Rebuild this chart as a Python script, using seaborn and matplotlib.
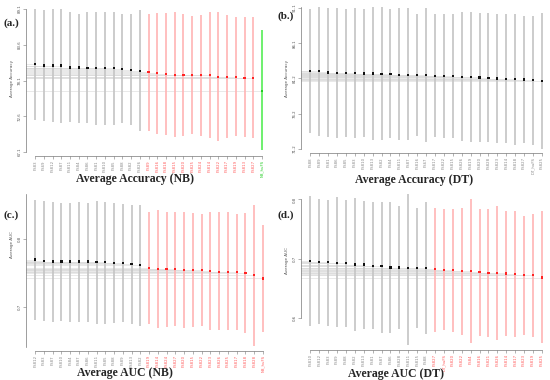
import numpy as np
import pandas as pd
import matplotlib
matplotlib.use("Agg")
import matplotlib.pyplot as plt
import seaborn as sns

sns.set_style("ticks")
plt.rcParams['font.family'] = ['DejaVu Sans']

#----------------------------------------------------------------------
# (a.) Average Accuracy (NB)
names_a = ["FS83", "FS69", "FS812", "FS87", "FS811", "FS84", "FS86", "FS81", "FS810",
           "FS85", "FS88", "FS82", "FS826",
           "FS89", "FS816", "FS818", "FS815", "FS820", "FS825", "FS824", "FS814",
           "FS822", "FS817", "FS819", "FS813", "FS827",
           "NB_huFS"]
kind_a = ["base"] * 13 + ["sel"] * 13 + ["hu"]
mean_a = [80.6, 80.4, 80.4, 80.4, 80.1, 80.1, 80.0, 80.0, 80.0, 80.0, 79.9, 79.7, 79.6,
          79.4, 79.2, 79.1, 79.0, 79.0, 78.9, 78.9, 78.9, 78.7, 78.7, 78.6, 78.5, 78.5,
          76.5]
high_a = [89.1, 89.0, 89.1, 89.1, 88.6, 88.4, 88.6, 88.6, 88.7, 88.6, 88.4, 88.4, 89.0,
          88.4, 88.5, 88.5, 88.6, 88.4, 88.1, 88.2, 88.6, 88.6, 88.2, 87.9, 87.9, 87.9,
          85.8]
low_a = [72.0, 71.8, 71.7, 71.6, 71.7, 71.6, 71.5, 71.3, 71.2, 71.3, 71.6, 71.2, 70.3,
         70.4, 69.8, 69.7, 69.4, 69.5, 69.8, 69.6, 69.3, 68.8, 69.2, 69.5, 69.4, 69.3,
         67.4]
yticks_a = ["67.1", "72.6", "78.1", "83.6", "89.1"]

# (b.) Average Accuracy (DT)
names_b = ["FS88", "FS89", "FS81", "FS86", "FS85", "FS83", "FS810", "FS813", "FS82",
           "FS84", "FS811", "FS87", "FS816", "FS67", "FS817", "FS822", "FS815", "FS826",
           "FS819", "FS820", "FS828", "FS823", "FS814", "FS818", "FS827", "DT_huFS",
           "FS825"]
kind_b = ["base"] * 27
mean_b = [82.2, 82.2, 82.0, 81.95, 81.95, 81.9, 81.85, 81.85, 81.8, 81.8, 81.7, 81.7,
          81.6, 81.6, 81.5, 81.45, 81.45, 81.4, 81.35, 81.3, 81.2, 81.15, 81.1, 81.05,
          81.0, 80.9, 80.8]
high_b = [90.9, 91.2, 91.1, 91.1, 91.0, 91.1, 90.9, 91.3, 91.2, 90.9, 91.1, 91.1,
          90.3, 91.1, 90.3, 90.3, 90.3, 90.6, 90.6, 90.45, 90.35, 90.26, 90.26, 90.26,
          89.98, 89.98, 90.45]
low_b = [73.4, 73.0, 72.85, 72.8, 72.85, 72.7, 72.85, 72.5, 72.5, 72.7, 72.5, 72.5,
         73.0, 72.2, 72.9, 72.8, 72.7, 72.3, 72.2, 72.2, 72.2, 72.0, 72.0, 71.8, 72.0,
         71.8, 71.2]
yticks_b = ["71.2", "76.2", "81.2", "86.1", "91.1"]

# (c.) Average AUC (NB)
names_c = ["FS812", "FS83", "FS87", "FS810", "FS84", "FS87", "FS86", "FS811", "FS85",
           "FS88", "FS89", "FS813", "FS82",
           "FS819", "FS814", "FS824", "FS827", "FS820", "FS815", "FS822", "FS823",
           "FS826", "FS825", "FS817", "FS818", "FS828", "NB_huFS"]
kind_c = ["base"] * 13 + ["sel"] * 14
mean_c = [0.770, 0.768, 0.767, 0.767, 0.767, 0.767, 0.767, 0.766, 0.766, 0.765, 0.765,
          0.763, 0.762,
          0.758, 0.756, 0.756, 0.756, 0.755, 0.755, 0.755, 0.753, 0.752, 0.752, 0.752,
          0.750, 0.747, 0.742]
high_c = [0.858, 0.857, 0.855, 0.853, 0.854, 0.855, 0.853, 0.856, 0.855, 0.853, 0.852,
          0.851, 0.851,
          0.840, 0.844, 0.841, 0.840, 0.841, 0.839, 0.838, 0.841, 0.840, 0.840, 0.837,
          0.839, 0.851, 0.821]
low_c = [0.681, 0.679, 0.678, 0.679, 0.678, 0.677, 0.678, 0.675, 0.675, 0.676, 0.677,
         0.674, 0.672,
         0.675, 0.669, 0.670, 0.671, 0.669, 0.670, 0.671, 0.665, 0.665, 0.665, 0.666,
         0.661, 0.642, 0.663]
yticks_c = ["0.7", "0.8"]

# (d.) Average AUC (DT)
names_d = ["FS810", "FS812", "FS83", "FS89", "FS88", "FS82", "FS813", "FS81", "FS87",
           "FS86", "FS828", "FS811", "FS815", "FS88",
           "FS827", "DT_huFS", "FS820", "FS822", "FS84", "FS816", "FS821", "FS826",
           "FS814", "FS817", "FS823", "FS819", "FS825"]
kind_d = ["base"] * 14 + ["sel"] * 13
mean_d = [0.6955, 0.695, 0.694, 0.693, 0.692, 0.690, 0.690, 0.688, 0.687, 0.685, 0.685,
          0.684, 0.684, 0.684,
          0.682, 0.681, 0.681, 0.679, 0.679, 0.677, 0.676, 0.676, 0.675, 0.674, 0.672,
          0.672, 0.668]
high_d = [0.805, 0.800, 0.799, 0.804, 0.799, 0.802, 0.798, 0.795, 0.796, 0.795, 0.789,
          0.809, 0.785, 0.795,
          0.785, 0.784, 0.784, 0.785, 0.800, 0.784, 0.784, 0.789, 0.781, 0.780, 0.772,
          0.776, 0.780]
low_d = [0.586, 0.589, 0.587, 0.585, 0.585, 0.577, 0.581, 0.581, 0.575, 0.575, 0.581,
         0.555, 0.583, 0.573,
         0.576, 0.579, 0.576, 0.571, 0.557, 0.569, 0.568, 0.562, 0.569, 0.568, 0.571,
         0.567, 0.557]
yticks_d = ["0.6", "0.7", "0.8"]

#----------------------------------------------------------------------
line_col = {"base": "#c4c4c4", "sel": "#ffb4b4", "hu": "#55ee55"}
dot_col = {"base": "#111111", "sel": "#ff2222", "hu": "#22cc22"}
text_col = {"base": "#888888", "sel": "#ff5a5a", "hu": "#22cc22"}


def draw_panel(ax, names, kind, mean, low, high, yticks, ylim, spine_lim,
               ylabel, title, tag, title_xy, tag_xy, ylab_xy):
    df = pd.DataFrame({"x": np.arange(len(names)), "name": names, "kind": kind,
                       "mean": mean, "low": low, "high": high})
    x0 = -1.05
    # guide lines from the axis to each point
    ax.hlines(df["mean"], x0, df["x"], color="#dcdcdc", lw=0.45, zorder=1)
    for k, sub in df.groupby("kind"):
        ax.vlines(sub["x"], sub["low"], sub["high"], color=line_col[k], lw=1.2,
                  zorder=2, clip_on=False)
    sns.scatterplot(data=df, x="x", y="mean", hue="kind", palette=dot_col,
                    marker="s", s=2.5, linewidth=0, legend=False, ax=ax, zorder=3,
                    clip_on=False)
    ax.set_xlim(x0, len(names) - 1 + 0.35)
    ax.set_ylim(*ylim)
    ax.set_xlabel("")
    ax.set_ylabel("")

    # spines first: moving a spine resets the ticks
    sns.despine(ax=ax)
    ax.spines["bottom"].set_position(("outward", 3))
    ax.spines["left"].set_bounds(*spine_lim)
    ax.spines["bottom"].set_bounds(0, len(names) - 1)
    for s in ["left", "bottom"]:
        ax.spines[s].set_linewidth(0.5)
        ax.spines[s].set_color("#777777")

    ax.tick_params(length=2, width=0.4, pad=1, color="#777777", labelsize=2.8)
    ax.tick_params(axis="x", labelrotation=90)
    ax.set_xticks(list(df["x"]))
    ax.set_xticklabels(names)
    for lab, k in zip(ax.get_xticklabels(), kind):
        lab.set_color(text_col[k])
    yt = [float(t) for t in yticks]
    ax.set_yticks(yt)
    ax.set_yticklabels(yticks, rotation=90, va="center", color="#555555")

    fig.text(ylab_xy[0] / 550, 1 - ylab_xy[1] / 380, ylabel, rotation=90, fontsize=3,
             ha="center", va="center", color="#555555")
    fig.text(title_xy[0] / 550, 1 - title_xy[1] / 380, title, fontsize=8.5,
             fontweight="bold", family="Liberation Serif", ha="center", va="center")
    fig.text(tag_xy[0] / 550, 1 - tag_xy[1] / 380, tag, fontsize=8,
             fontweight="bold", family="Liberation Serif", ha="left", va="center")


fig = plt.figure(figsize=(5.5, 3.8), dpi=100)
W, H = 550, 380


def add_axes(l, t, r, b):
    return fig.add_axes([l / W, 1 - b / H, (r - l) / W, (b - t) / H])


ax_a = add_axes(26, 9, 265, 152)
ax_b = add_axes(301, 7.3, 545, 149)
ax_c = add_axes(26, 194, 266, 346.7)
ax_d = add_axes(301, 193.5, 545, 345.7)

draw_panel(ax_a, names_a, kind_a, mean_a, low_a, high_a, yticks_a, (67.1, 89.1),
           (67.1, 89.1), "Average Accuracy", "Average Accuracy (NB)", "(a.)",
           (135, 179), (4, 23), (12, 78))
draw_panel(ax_b, names_b, kind_b, mean_b, low_b, high_b, yticks_b, (71.2, 91.2),
           (71.2, 91.2), "Average Accuracy", "Average Accuracy (DT)", "(b.)",
           (414, 180), (278, 16), (287, 78))
draw_panel(ax_c, names_c, kind_c, mean_c, low_c, high_c, yticks_c, (0.641, 0.867),
           (0.641, 0.867), "Average AUC", "Average AUC (NB)", "(c.)",
           (125, 373), (4, 215), (12, 245))
draw_panel(ax_d, names_d, kind_d, mean_d, low_d, high_d, yticks_d, (0.553, 0.81),
           (0.6, 0.8), "Average AUC", "Average AUC (DT)", "(d.)",
           (396, 374), (278, 215), (287, 260))

plt.savefig("out.png", dpi=100)
plt.close()
